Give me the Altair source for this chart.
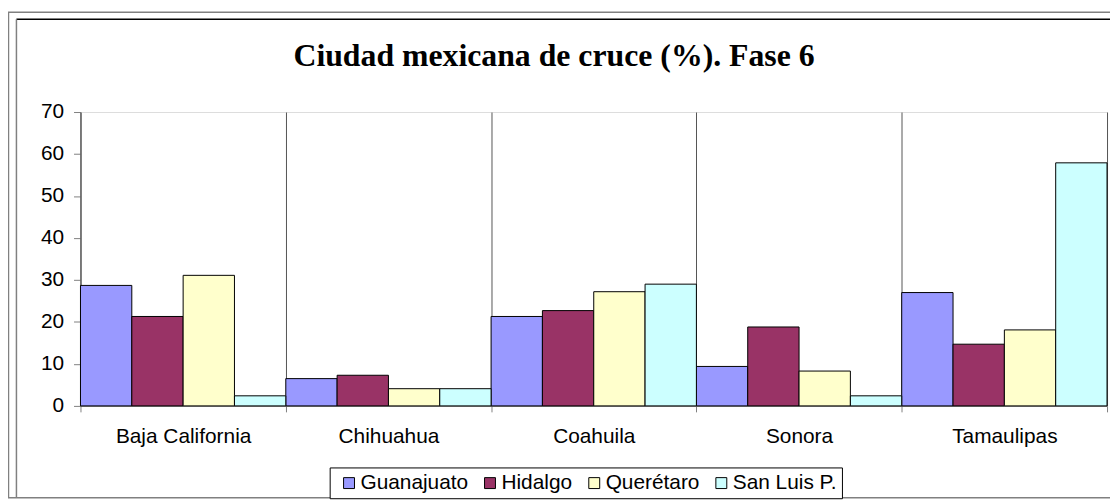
import altair as alt
import pandas as pd

categories = ["Baja California", "Chihuahua", "Coahuila", "Sonora", "Tamaulipas"]
series = ["Guanajuato", "Hidalgo", "Querétaro", "San Luis P."]
guanajuato = [28.7, 6.5, 21.3, 9.4, 27.0]
hidalgo = [21.3, 7.3, 22.7, 18.8, 14.7]
queretaro = [31.1, 4.1, 27.2, 8.3, 18.1]
san_luis = [2.4, 4.1, 29.0, 2.4, 57.9]
colors = ["#9999FF", "#993366", "#FFFFCC", "#CCFFFF"]
y_ticks = [0, 10, 20, 30, 40, 50, 60, 70]

rows = []
for s, vals in zip(series, [guanajuato, hidalgo, queretaro, san_luis]):
    for c, v in zip(categories, vals):
        rows.append({"estado": c, "serie": s, "valor": v})
df = pd.DataFrame(rows)

W, H = 1034, 296

bars = alt.Chart(df).mark_bar(stroke="black", strokeWidth=1).encode(
    x=alt.X("estado:N", sort=categories, title=None,
            scale=alt.Scale(paddingInner=0, paddingOuter=0),
            axis=alt.Axis(labelAngle=0, labelFont="Liberation Sans", labelFontSize=21,
                          labelColor="black", labelPadding=14, tickBand="extent",
                          grid=True, gridColor="#555555", gridWidth=1,
                          ticks=True, tickSize=6, tickColor="#808080",
                          domainColor="#808080")),
    xOffset=alt.XOffset("serie:N", sort=series,
                        scale=alt.Scale(paddingInner=0, paddingOuter=0)),
    y=alt.Y("valor:Q", title=None,
            scale=alt.Scale(domain=[0, 70], nice=False),
            axis=alt.Axis(values=y_ticks, grid=False, labelFont="Liberation Sans",
                          labelFontSize=21, labelColor="black", labelPadding=10,
                          tickSize=7, tickColor="#808080", domainColor="#555555")),
    color=alt.Color("serie:N", sort=series,
                    scale=alt.Scale(domain=series, range=colors),
                    legend=alt.Legend(title=None, orient="none", direction="horizontal",
                                      legendX=251, legendY=358,
                                      symbolType="square", symbolSize=121,
                                      symbolStrokeColor="black", symbolStrokeWidth=1,
                                      symbolOffset=4,
                                      labelFont="Liberation Sans", labelFontSize=21,
                                      labelColor="black", labelOffset=1,
                                      columnPadding=7, padding=5,
                                      strokeColor="black", fillColor="white")),
)

one = pd.DataFrame({"k": [0]})
outer = alt.Chart(one).mark_rect(fill=None, stroke="#808080", strokeWidth=1.5).encode(
    x=alt.value(-72.5), x2=alt.value(1060), y=alt.value(-100.5), y2=alt.value(388.5))
inner_top = alt.Chart(one).mark_rule(color="black", strokeWidth=1.5).encode(
    x=alt.value(-64.5), x2=alt.value(1060), y=alt.value(-93.5))
inner_left = alt.Chart(one).mark_rule(color="#808080", strokeWidth=1.5).encode(
    x=alt.value(-64.5), y=alt.value(-93.5), y2=alt.value(388.5))

chart = alt.layer(outer, inner_top, inner_left, bars).properties(
    width=W, height=H,
    title=alt.TitleParams("Ciudad mexicana de cruce (%). Fase 6",
                          font="Liberation Serif", fontSize=32, fontWeight="bold",
                          color="black", anchor="middle", frame="group",
                          dx=-40, offset=-62),
    autosize=alt.AutoSizeParams(type="none"),
    padding={"left": 73, "top": 103, "right": 3, "bottom": 94},
).configure_view(fill="#C0C0C0", stroke="#808080").configure(background="white")

chart.save("out.html", embed_options={"renderer": "svg", "actions": False})
